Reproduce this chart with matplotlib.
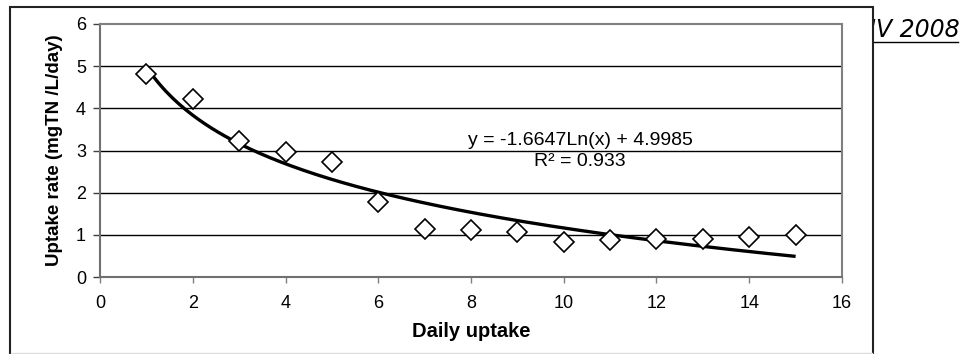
import numpy as np
import matplotlib
matplotlib.use("Agg")
import matplotlib.pyplot as plt
from matplotlib.patches import Rectangle
from matplotlib.lines import Line2D

# ---- data ----
days = [1, 2, 3, 4, 5, 6, 7, 8, 9, 10, 11, 12, 13, 14, 15]
uptake_rate = [4.81, 4.22, 3.23, 2.96, 2.72, 1.79, 1.13, 1.11, 1.06, 0.82, 0.88, 0.90, 0.90, 0.95, 0.99]
x_ticks = [0, 2, 4, 6, 8, 10, 12, 14, 16]
y_ticks = [0, 1, 2, 3, 4, 5, 6]
eq_text = "y = -1.6647Ln(x) + 4.9985\nR\u00b2 = 0.933"
corner_text = "IV 2008"

plt.rcParams['font.family'] = ['Liberation Sans', 'DejaVu Sans']

W, H = 962, 354
fig = plt.figure(figsize=(W / 100, H / 100), dpi=100)

# background text partly hidden by the chart box
fig.text(960 / W, 1 - 37 / H, corner_text, ha='right', va='baseline',
         fontsize=17, style='italic', family=['DejaVu Sans'], zorder=0)
fig.add_artist(Line2D([858 / W, 958 / W], [1 - 42 / H, 1 - 42 / H],
                      color='black', lw=1.0, zorder=0))

# chart box
fig.add_artist(Rectangle((10 / W, -0.05), (873 - 10) / W, 0.05 + 1 - 7 / H,
                         facecolor='white', edgecolor='#222222', lw=1.5,
                         zorder=0.5))
fig.add_artist(Line2D([11 / W, 872 / W], [1 - 352.5 / H, 1 - 352.5 / H],
                      color='#dddddd', lw=1.0, zorder=0.6))

ax = fig.add_axes([100 / W, 1 - 277 / H, (842 - 100) / W, (277 - 24) / H])
ax.set_zorder(1)
ax.patch.set_alpha(0)

ax.set_xlim(0, 16)
ax.set_ylim(0, 6)
ax.set_xticks(x_ticks)
ax.set_yticks(y_ticks)

for y in y_ticks[1:-1]:
    ax.axhline(y, color='black', lw=1.0, zorder=1)

for s in ['top', 'right']:
    ax.spines[s].set_color('#808080')
    ax.spines[s].set_linewidth(1.5)
for s in ['left', 'bottom']:
    ax.spines[s].set_color('#707070')
    ax.spines[s].set_linewidth(1.5)

ax.tick_params(axis='y', direction='out', length=5, width=1, color='#404040',
               labelsize=13, pad=5)
ax.tick_params(axis='x', direction='out', length=4, width=1, color='#808080',
               labelsize=13, pad=9)

# logarithmic trendline fitted by least squares on ln(x)
xs = np.array(days, dtype=float)
coef = np.polyfit(np.log(xs), np.array(uptake_rate), 1)
xf = np.linspace(xs.min(), xs.max(), 200)
ax.plot(xf, coef[0] * np.log(xf) + coef[1], color='black', lw=2.4,
        zorder=3, solid_capstyle='butt')

ax.plot(days, uptake_rate, linestyle='none', marker='D', markersize=10,
        markerfacecolor='white', markeredgecolor='black',
        markeredgewidth=1.2, zorder=4)

ax.text(10.35, 2.98, eq_text, ha='center', va='center', fontsize=14,
        multialignment='center', linespacing=1.3, zorder=5)

ax.set_xlabel('Daily uptake', fontsize=14.5, fontweight='bold', labelpad=7)
ax.set_ylabel('Uptake rate (mgTN /L/day)', fontsize=13.5, fontweight='bold',
              labelpad=9)

fig.savefig('out.png', dpi=100)
